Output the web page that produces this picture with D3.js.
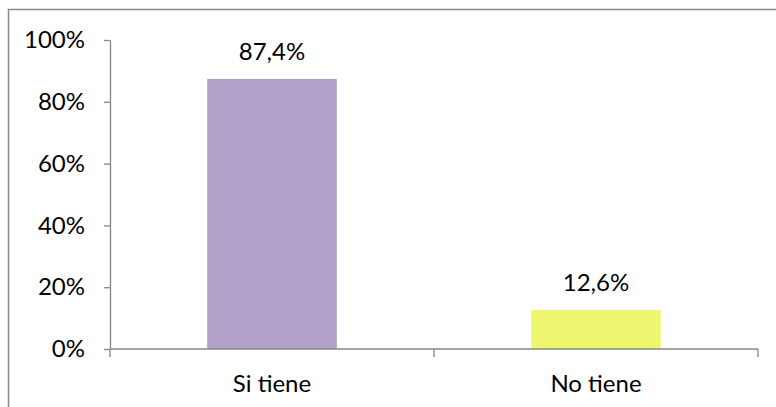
<!DOCTYPE html>
<html>
<head>
<meta charset="utf-8">
<script src="https://cdn.jsdelivr.net/npm/d3@7"></script>
<style>
  html, body { margin: 0; padding: 0; background: #fff; }
  svg { display: block; }
  text { font-family: Lato, "Open Sans", sans-serif; fill: #000; }
</style>
</head>
<body>
<svg id="chart" width="776" height="407"></svg>
<script>
const categories = ["Si tiene", "No tiene"];
const values = [0.874, 0.126];
const valueLabels = ["87,4%", "12,6%"];
const colors = ["#B1A0C7", "#EEF56F"];
const yTicks = [0, 0.2, 0.4, 0.6, 0.8, 1.0];

const svg = d3.select("#chart");
const plot = { left: 110, right: 758, top: 40, bottom: 349 };
const fontSize = "24px";

// outer frame (partially cropped on right/bottom)
svg.append("rect")
  .attr("x", 8.5).attr("y", 9.5)
  .attr("width", 800).attr("height", 420)
  .attr("fill", "none").attr("stroke", "#8a8a8a").attr("stroke-width", 1.5);

const x = d3.scaleBand().domain(categories)
  .range([plot.left, plot.right])
  .paddingInner(0.6).paddingOuter(0.3);
const y = d3.scaleLinear().domain([0, 1]).range([plot.bottom, plot.top]);

const fmt = d => Math.round(d * 100) + "%";

// y axis
const yAxis = d3.axisLeft(y).tickValues(yTicks).tickFormat(fmt).tickSize(6).tickSizeOuter(0).tickPadding(19);
const gy = svg.append("g").attr("transform", `translate(${plot.left},0)`).call(yAxis);
gy.select(".domain").attr("stroke", "#868686").attr("stroke-width", 1.3);
gy.selectAll(".tick line").attr("stroke", "#868686").attr("stroke-width", 1.3);
gy.selectAll(".tick text").style("font-size", fontSize).style("font-family", "Lato, sans-serif").attr("fill", "#000");

// bars
svg.append("g").selectAll("rect").data(categories).join("rect")
  .attr("x", d => x(d))
  .attr("width", x.bandwidth())
  .attr("y", (d, i) => y(values[i]))
  .attr("height", (d, i) => y(0) - y(values[i]))
  .attr("fill", (d, i) => colors[i]);

// x axis baseline and tick marks at category boundaries
const step = x.step();
const x0 = x.range()[0];
const boundaries = d3.range(categories.length + 1).map(i => x0 + i * step);
svg.append("line")
  .attr("x1", x0).attr("x2", x.range()[1])
  .attr("y1", y(0)).attr("y2", y(0))
  .attr("stroke", "#868686").attr("stroke-width", 1.3);
svg.append("g").selectAll("line").data(boundaries).join("line")
  .attr("x1", d => d).attr("x2", d => d)
  .attr("y1", y(0)).attr("y2", y(0) + 8)
  .attr("stroke", "#868686").attr("stroke-width", 1.3);

// category labels
svg.append("g").selectAll("text").data(categories).join("text")
  .attr("x", d => x(d) + x.bandwidth() / 2)
  .attr("y", y(0) + 43)
  .attr("text-anchor", "middle")
  .style("font-size", fontSize)
  .text(d => d);

// value labels
svg.append("g").selectAll("text").data(categories).join("text")
  .attr("x", d => x(d) + x.bandwidth() / 2)
  .attr("y", (d, i) => y(values[i]) - 19)
  .attr("text-anchor", "middle")
  .style("font-size", fontSize)
  .text((d, i) => valueLabels[i]);
</script>
</body>
</html>
